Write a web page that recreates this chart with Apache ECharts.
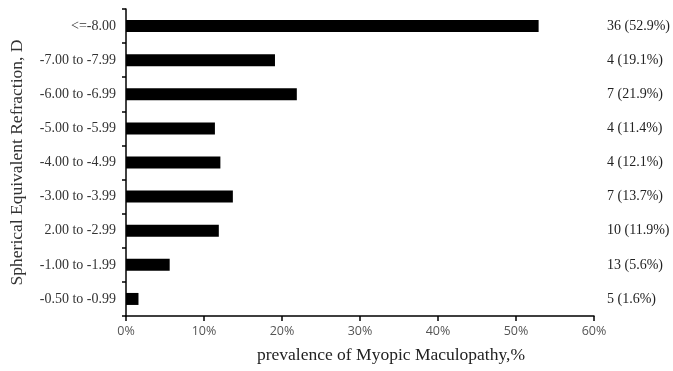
<!DOCTYPE html>
<html><head><meta charset="utf-8">
<script src="https://cdn.jsdelivr.net/npm/echarts@6/dist/echarts.min.js"></script>
<style>html,body{margin:0;padding:0;background:#fff}#c{width:673px;height:371px}</style>
</head><body><div id="c"></div>
<script>
const categories = ['-0.50 to -0.99','-1.00 to -1.99','2.00 to -2.99','-3.00 to -3.99','-4.00 to -4.99','-5.00 to -5.99','-6.00 to -6.99','-7.00 to -7.99','<=-8.00'];
const prevalence = [1.6, 5.6, 11.9, 13.7, 12.1, 11.4, 21.9, 19.1, 52.9];
const counts = [5, 13, 10, 7, 4, 4, 7, 4, 36];
const xTicks = [0, 10, 20, 30, 40, 50, 60];
const rightLabels = counts.map((n, i) => n + ' (' + prevalence[i].toFixed(1) + '%)');
const font = 'Liberation Serif';
const chart = echarts.init(document.getElementById('c'));
chart.setOption({
  animation: false,
  grid: {left: 123, right: 79, top: 9, bottom: 55},
  xAxis: {
    type: 'value', min: xTicks[0], max: xTicks[xTicks.length-1], interval: 10,
    axisLine: {show: true, lineStyle: {color: '#000', width: 1.5}},
    axisTick: {show: true, length: 5, lineStyle: {color: '#000', width: 1.5}},
    splitLine: {show: false},
    axisLabel: {formatter: v => v + '%', color: '#555', fontFamily: 'Open Sans', fontSize: 12.5, margin: 9},
    name: 'prevalence of Myopic Maculopathy,%', nameLocation: 'middle', nameGap: 30,
    nameTextStyle: {color: '#222', fontFamily: font, fontSize: 17.5, padding: [0, 0, 0, 62]}
  },
  yAxis: [{
    type: 'category', data: categories,
    axisLine: {show: true, lineStyle: {color: '#000', width: 1.5}},
    axisTick: {show: true, length: 4, lineStyle: {color: '#000', width: 1.5}},
    axisLabel: {color: '#333', fontFamily: font, fontSize: 14, margin: 10},
    name: 'Spherical Equivalent Refraction, D', nameLocation: 'middle', nameGap: 100,
    nameTextStyle: {color: '#333', fontFamily: font, fontSize: 17.5}
  }, {
    type: 'category', data: rightLabels, position: 'right',
    axisLine: {show: false}, axisTick: {show: false},
    axisLabel: {color: '#222', fontFamily: font, fontSize: 14, margin: 13}
  }],
  series: [{
    type: 'bar', data: prevalence, barWidth: 12, yAxisIndex: 0,
    itemStyle: {color: '#000'}
  }]
});
</script></body></html>
